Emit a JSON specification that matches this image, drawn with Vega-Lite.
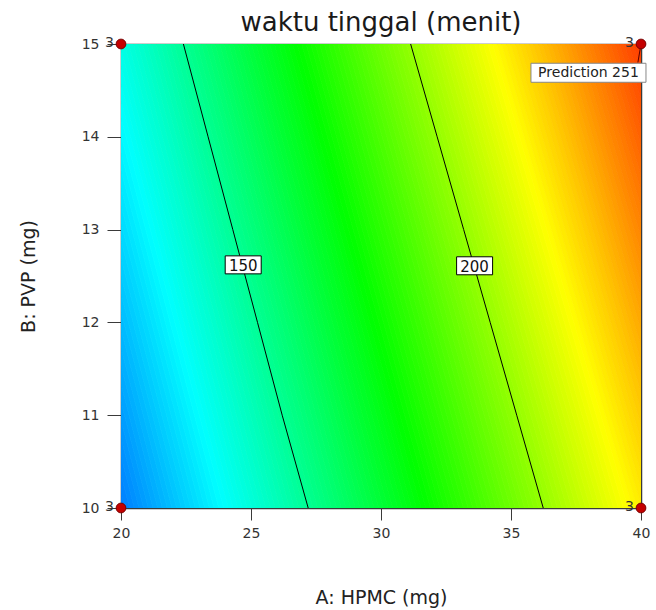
{
  "$schema": "https://vega.github.io/schema/vega-lite/v6.json",
  "autosize": {"type": "none"},
  "width": 520,
  "height": 464,
  "padding": {"left": 121, "top": 44, "right": 15, "bottom": 102},
  "background": "white",
  "config": {"font": "DejaVu Sans", "view": {"stroke": null}},
  "title": {"text": "waktu tinggal (menit)", "fontSize": 26, "fontWeight": "normal", "font": "DejaVu Sans", "color": "#1a1a1a", "anchor": "middle", "baseline": "alphabetic", "offset": -21},
  "datasets": {
    "bands": [
      {"z":108.5,"b":15,"a":15.06,"a2":15.23},{"z":108.5,"b":10,"a":19.61,"a2":19.79},
      {"z":109.5,"b":15,"a":15.23,"a2":15.41},{"z":109.5,"b":10,"a":19.79,"a2":19.97},
      {"z":110.5,"b":15,"a":15.41,"a2":15.58},{"z":110.5,"b":10,"a":19.97,"a2":20.15},
      {"z":111.5,"b":15,"a":15.58,"a2":15.76},{"z":111.5,"b":10,"a":20.15,"a2":20.33},
      {"z":112.5,"b":15,"a":15.76,"a2":15.93},{"z":112.5,"b":10,"a":20.33,"a2":20.51},
      {"z":113.5,"b":15,"a":15.93,"a2":16.11},{"z":113.5,"b":10,"a":20.51,"a2":20.69},
      {"z":114.5,"b":15,"a":16.11,"a2":16.28},{"z":114.5,"b":10,"a":20.69,"a2":20.87},
      {"z":115.5,"b":15,"a":16.28,"a2":16.46},{"z":115.5,"b":10,"a":20.87,"a2":21.05},
      {"z":116.5,"b":15,"a":16.46,"a2":16.63},{"z":116.5,"b":10,"a":21.05,"a2":21.23},
      {"z":117.5,"b":15,"a":16.63,"a2":16.81},{"z":117.5,"b":10,"a":21.23,"a2":21.41},
      {"z":118.5,"b":15,"a":16.81,"a2":16.98},{"z":118.5,"b":10,"a":21.41,"a2":21.59},
      {"z":119.5,"b":15,"a":16.98,"a2":17.16},{"z":119.5,"b":10,"a":21.59,"a2":21.78},
      {"z":120.5,"b":15,"a":17.16,"a2":17.33},{"z":120.5,"b":10,"a":21.78,"a2":21.96},
      {"z":121.5,"b":15,"a":17.33,"a2":17.50},{"z":121.5,"b":10,"a":21.96,"a2":22.14},
      {"z":122.5,"b":15,"a":17.50,"a2":17.68},{"z":122.5,"b":10,"a":22.14,"a2":22.32},
      {"z":123.5,"b":15,"a":17.68,"a2":17.85},{"z":123.5,"b":10,"a":22.32,"a2":22.50},
      {"z":124.5,"b":15,"a":17.85,"a2":18.03},{"z":124.5,"b":10,"a":22.50,"a2":22.68},
      {"z":125.5,"b":15,"a":18.03,"a2":18.20},{"z":125.5,"b":10,"a":22.68,"a2":22.86},
      {"z":126.5,"b":15,"a":18.20,"a2":18.38},{"z":126.5,"b":10,"a":22.86,"a2":23.04},
      {"z":127.5,"b":15,"a":18.38,"a2":18.55},{"z":127.5,"b":10,"a":23.04,"a2":23.22},
      {"z":128.5,"b":15,"a":18.55,"a2":18.73},{"z":128.5,"b":10,"a":23.22,"a2":23.40},
      {"z":129.5,"b":15,"a":18.73,"a2":18.90},{"z":129.5,"b":10,"a":23.40,"a2":23.58},
      {"z":130.5,"b":15,"a":18.90,"a2":19.08},{"z":130.5,"b":10,"a":23.58,"a2":23.76},
      {"z":131.5,"b":15,"a":19.08,"a2":19.25},{"z":131.5,"b":10,"a":23.76,"a2":23.95},
      {"z":132.5,"b":15,"a":19.25,"a2":19.43},{"z":132.5,"b":10,"a":23.95,"a2":24.13},
      {"z":133.5,"b":15,"a":19.43,"a2":19.60},{"z":133.5,"b":10,"a":24.13,"a2":24.31},
      {"z":134.5,"b":15,"a":19.60,"a2":19.78},{"z":134.5,"b":10,"a":24.31,"a2":24.49},
      {"z":135.5,"b":15,"a":19.78,"a2":19.95},{"z":135.5,"b":10,"a":24.49,"a2":24.67},
      {"z":136.5,"b":15,"a":19.95,"a2":20.13},{"z":136.5,"b":10,"a":24.67,"a2":24.85},
      {"z":137.5,"b":15,"a":20.13,"a2":20.30},{"z":137.5,"b":10,"a":24.85,"a2":25.03},
      {"z":138.5,"b":15,"a":20.30,"a2":20.48},{"z":138.5,"b":10,"a":25.03,"a2":25.21},
      {"z":139.5,"b":15,"a":20.48,"a2":20.65},{"z":139.5,"b":10,"a":25.21,"a2":25.39},
      {"z":140.5,"b":15,"a":20.65,"a2":20.83},{"z":140.5,"b":10,"a":25.39,"a2":25.57},
      {"z":141.5,"b":15,"a":20.83,"a2":21.00},{"z":141.5,"b":10,"a":25.57,"a2":25.75},
      {"z":142.5,"b":15,"a":21.00,"a2":21.18},{"z":142.5,"b":10,"a":25.75,"a2":25.93},
      {"z":143.5,"b":15,"a":21.18,"a2":21.35},{"z":143.5,"b":10,"a":25.93,"a2":26.12},
      {"z":144.5,"b":15,"a":21.35,"a2":21.53},{"z":144.5,"b":10,"a":26.12,"a2":26.30},
      {"z":145.5,"b":15,"a":21.53,"a2":21.70},{"z":145.5,"b":10,"a":26.30,"a2":26.48},
      {"z":146.5,"b":15,"a":21.70,"a2":21.88},{"z":146.5,"b":10,"a":26.48,"a2":26.66},
      {"z":147.5,"b":15,"a":21.88,"a2":22.05},{"z":147.5,"b":10,"a":26.66,"a2":26.84},
      {"z":148.5,"b":15,"a":22.05,"a2":22.23},{"z":148.5,"b":10,"a":26.84,"a2":27.02},
      {"z":149.5,"b":15,"a":22.23,"a2":22.40},{"z":149.5,"b":10,"a":27.02,"a2":27.20},
      {"z":150.5,"b":15,"a":22.40,"a2":22.57},{"z":150.5,"b":10,"a":27.20,"a2":27.38},
      {"z":151.5,"b":15,"a":22.57,"a2":22.75},{"z":151.5,"b":10,"a":27.38,"a2":27.56},
      {"z":152.5,"b":15,"a":22.75,"a2":22.92},{"z":152.5,"b":10,"a":27.56,"a2":27.74},
      {"z":153.5,"b":15,"a":22.92,"a2":23.10},{"z":153.5,"b":10,"a":27.74,"a2":27.92},
      {"z":154.5,"b":15,"a":23.10,"a2":23.27},{"z":154.5,"b":10,"a":27.92,"a2":28.10},
      {"z":155.5,"b":15,"a":23.27,"a2":23.45},{"z":155.5,"b":10,"a":28.10,"a2":28.29},
      {"z":156.5,"b":15,"a":23.45,"a2":23.62},{"z":156.5,"b":10,"a":28.29,"a2":28.47},
      {"z":157.5,"b":15,"a":23.62,"a2":23.80},{"z":157.5,"b":10,"a":28.47,"a2":28.65},
      {"z":158.5,"b":15,"a":23.80,"a2":23.97},{"z":158.5,"b":10,"a":28.65,"a2":28.83},
      {"z":159.5,"b":15,"a":23.97,"a2":24.15},{"z":159.5,"b":10,"a":28.83,"a2":29.01},
      {"z":160.5,"b":15,"a":24.15,"a2":24.32},{"z":160.5,"b":10,"a":29.01,"a2":29.19},
      {"z":161.5,"b":15,"a":24.32,"a2":24.50},{"z":161.5,"b":10,"a":29.19,"a2":29.37},
      {"z":162.5,"b":15,"a":24.50,"a2":24.67},{"z":162.5,"b":10,"a":29.37,"a2":29.55},
      {"z":163.5,"b":15,"a":24.67,"a2":24.85},{"z":163.5,"b":10,"a":29.55,"a2":29.73},
      {"z":164.5,"b":15,"a":24.85,"a2":25.02},{"z":164.5,"b":10,"a":29.73,"a2":29.91},
      {"z":165.5,"b":15,"a":25.02,"a2":25.20},{"z":165.5,"b":10,"a":29.91,"a2":30.09},
      {"z":166.5,"b":15,"a":25.20,"a2":25.37},{"z":166.5,"b":10,"a":30.09,"a2":30.27},
      {"z":167.5,"b":15,"a":25.37,"a2":25.55},{"z":167.5,"b":10,"a":30.27,"a2":30.45},
      {"z":168.5,"b":15,"a":25.55,"a2":25.72},{"z":168.5,"b":10,"a":30.45,"a2":30.64},
      {"z":169.5,"b":15,"a":25.72,"a2":25.90},{"z":169.5,"b":10,"a":30.64,"a2":30.82},
      {"z":170.5,"b":15,"a":25.90,"a2":26.07},{"z":170.5,"b":10,"a":30.82,"a2":31.00},
      {"z":171.5,"b":15,"a":26.07,"a2":26.25},{"z":171.5,"b":10,"a":31.00,"a2":31.18},
      {"z":172.5,"b":15,"a":26.25,"a2":26.42},{"z":172.5,"b":10,"a":31.18,"a2":31.36},
      {"z":173.5,"b":15,"a":26.42,"a2":26.60},{"z":173.5,"b":10,"a":31.36,"a2":31.54},
      {"z":174.5,"b":15,"a":26.60,"a2":26.77},{"z":174.5,"b":10,"a":31.54,"a2":31.72},
      {"z":175.5,"b":15,"a":26.77,"a2":26.95},{"z":175.5,"b":10,"a":31.72,"a2":31.90},
      {"z":176.5,"b":15,"a":26.95,"a2":27.12},{"z":176.5,"b":10,"a":31.90,"a2":32.08},
      {"z":177.5,"b":15,"a":27.12,"a2":27.30},{"z":177.5,"b":10,"a":32.08,"a2":32.26},
      {"z":178.5,"b":15,"a":27.30,"a2":27.47},{"z":178.5,"b":10,"a":32.26,"a2":32.44},
      {"z":179.5,"b":15,"a":27.47,"a2":27.64},{"z":179.5,"b":10,"a":32.44,"a2":32.62},
      {"z":180.5,"b":15,"a":27.64,"a2":27.82},{"z":180.5,"b":10,"a":32.62,"a2":32.81},
      {"z":181.5,"b":15,"a":27.82,"a2":27.99},{"z":181.5,"b":10,"a":32.81,"a2":32.99},
      {"z":182.5,"b":15,"a":27.99,"a2":28.17},{"z":182.5,"b":10,"a":32.99,"a2":33.17},
      {"z":183.5,"b":15,"a":28.17,"a2":28.34},{"z":183.5,"b":10,"a":33.17,"a2":33.35},
      {"z":184.5,"b":15,"a":28.34,"a2":28.52},{"z":184.5,"b":10,"a":33.35,"a2":33.53},
      {"z":185.5,"b":15,"a":28.52,"a2":28.69},{"z":185.5,"b":10,"a":33.53,"a2":33.71},
      {"z":186.5,"b":15,"a":28.69,"a2":28.87},{"z":186.5,"b":10,"a":33.71,"a2":33.89},
      {"z":187.5,"b":15,"a":28.87,"a2":29.04},{"z":187.5,"b":10,"a":33.89,"a2":34.07},
      {"z":188.5,"b":15,"a":29.04,"a2":29.22},{"z":188.5,"b":10,"a":34.07,"a2":34.25},
      {"z":189.5,"b":15,"a":29.22,"a2":29.39},{"z":189.5,"b":10,"a":34.25,"a2":34.43},
      {"z":190.5,"b":15,"a":29.39,"a2":29.57},{"z":190.5,"b":10,"a":34.43,"a2":34.61},
      {"z":191.5,"b":15,"a":29.57,"a2":29.74},{"z":191.5,"b":10,"a":34.61,"a2":34.79},
      {"z":192.5,"b":15,"a":29.74,"a2":29.92},{"z":192.5,"b":10,"a":34.79,"a2":34.98},
      {"z":193.5,"b":15,"a":29.92,"a2":30.09},{"z":193.5,"b":10,"a":34.98,"a2":35.16},
      {"z":194.5,"b":15,"a":30.09,"a2":30.27},{"z":194.5,"b":10,"a":35.16,"a2":35.34},
      {"z":195.5,"b":15,"a":30.27,"a2":30.44},{"z":195.5,"b":10,"a":35.34,"a2":35.52},
      {"z":196.5,"b":15,"a":30.44,"a2":30.62},{"z":196.5,"b":10,"a":35.52,"a2":35.70},
      {"z":197.5,"b":15,"a":30.62,"a2":30.79},{"z":197.5,"b":10,"a":35.70,"a2":35.88},
      {"z":198.5,"b":15,"a":30.79,"a2":30.97},{"z":198.5,"b":10,"a":35.88,"a2":36.06},
      {"z":199.5,"b":15,"a":30.97,"a2":31.14},{"z":199.5,"b":10,"a":36.06,"a2":36.24},
      {"z":200.5,"b":15,"a":31.14,"a2":31.32},{"z":200.5,"b":10,"a":36.24,"a2":36.42},
      {"z":201.5,"b":15,"a":31.32,"a2":31.49},{"z":201.5,"b":10,"a":36.42,"a2":36.60},
      {"z":202.5,"b":15,"a":31.49,"a2":31.67},{"z":202.5,"b":10,"a":36.60,"a2":36.78},
      {"z":203.5,"b":15,"a":31.67,"a2":31.84},{"z":203.5,"b":10,"a":36.78,"a2":36.96},
      {"z":204.5,"b":15,"a":31.84,"a2":32.02},{"z":204.5,"b":10,"a":36.96,"a2":37.15},
      {"z":205.5,"b":15,"a":32.02,"a2":32.19},{"z":205.5,"b":10,"a":37.15,"a2":37.33},
      {"z":206.5,"b":15,"a":32.19,"a2":32.37},{"z":206.5,"b":10,"a":37.33,"a2":37.51},
      {"z":207.5,"b":15,"a":32.37,"a2":32.54},{"z":207.5,"b":10,"a":37.51,"a2":37.69},
      {"z":208.5,"b":15,"a":32.54,"a2":32.72},{"z":208.5,"b":10,"a":37.69,"a2":37.87},
      {"z":209.5,"b":15,"a":32.72,"a2":32.89},{"z":209.5,"b":10,"a":37.87,"a2":38.05},
      {"z":210.5,"b":15,"a":32.89,"a2":33.06},{"z":210.5,"b":10,"a":38.05,"a2":38.23},
      {"z":211.5,"b":15,"a":33.06,"a2":33.24},{"z":211.5,"b":10,"a":38.23,"a2":38.41},
      {"z":212.5,"b":15,"a":33.24,"a2":33.41},{"z":212.5,"b":10,"a":38.41,"a2":38.59},
      {"z":213.5,"b":15,"a":33.41,"a2":33.59},{"z":213.5,"b":10,"a":38.59,"a2":38.77},
      {"z":214.5,"b":15,"a":33.59,"a2":33.76},{"z":214.5,"b":10,"a":38.77,"a2":38.95},
      {"z":215.5,"b":15,"a":33.76,"a2":33.94},{"z":215.5,"b":10,"a":38.95,"a2":39.13},
      {"z":216.5,"b":15,"a":33.94,"a2":34.11},{"z":216.5,"b":10,"a":39.13,"a2":39.32},
      {"z":217.5,"b":15,"a":34.11,"a2":34.29},{"z":217.5,"b":10,"a":39.32,"a2":39.50},
      {"z":218.5,"b":15,"a":34.29,"a2":34.46},{"z":218.5,"b":10,"a":39.50,"a2":39.68},
      {"z":219.5,"b":15,"a":34.46,"a2":34.64},{"z":219.5,"b":10,"a":39.68,"a2":39.86},
      {"z":220.5,"b":15,"a":34.64,"a2":34.81},{"z":220.5,"b":10,"a":39.86,"a2":40.04},
      {"z":221.5,"b":15,"a":34.81,"a2":34.99},{"z":221.5,"b":10,"a":40.04,"a2":40.22},
      {"z":222.5,"b":15,"a":34.99,"a2":35.16},{"z":222.5,"b":10,"a":40.22,"a2":40.40},
      {"z":223.5,"b":15,"a":35.16,"a2":35.34},{"z":223.5,"b":10,"a":40.40,"a2":40.58},
      {"z":224.5,"b":15,"a":35.34,"a2":35.51},{"z":224.5,"b":10,"a":40.58,"a2":40.76},
      {"z":225.5,"b":15,"a":35.51,"a2":35.69},{"z":225.5,"b":10,"a":40.76,"a2":40.94},
      {"z":226.5,"b":15,"a":35.69,"a2":35.86},{"z":226.5,"b":10,"a":40.94,"a2":41.12},
      {"z":227.5,"b":15,"a":35.86,"a2":36.04},{"z":227.5,"b":10,"a":41.12,"a2":41.31},
      {"z":228.5,"b":15,"a":36.04,"a2":36.21},{"z":228.5,"b":10,"a":41.31,"a2":41.49},
      {"z":229.5,"b":15,"a":36.21,"a2":36.39},{"z":229.5,"b":10,"a":41.49,"a2":41.67},
      {"z":230.5,"b":15,"a":36.39,"a2":36.56},{"z":230.5,"b":10,"a":41.67,"a2":41.85},
      {"z":231.5,"b":15,"a":36.56,"a2":36.74},{"z":231.5,"b":10,"a":41.85,"a2":42.03},
      {"z":232.5,"b":15,"a":36.74,"a2":36.91},{"z":232.5,"b":10,"a":42.03,"a2":42.21},
      {"z":233.5,"b":15,"a":36.91,"a2":37.09},{"z":233.5,"b":10,"a":42.21,"a2":42.39},
      {"z":234.5,"b":15,"a":37.09,"a2":37.26},{"z":234.5,"b":10,"a":42.39,"a2":42.57},
      {"z":235.5,"b":15,"a":37.26,"a2":37.44},{"z":235.5,"b":10,"a":42.57,"a2":42.75},
      {"z":236.5,"b":15,"a":37.44,"a2":37.61},{"z":236.5,"b":10,"a":42.75,"a2":42.93},
      {"z":237.5,"b":15,"a":37.61,"a2":37.79},{"z":237.5,"b":10,"a":42.93,"a2":43.11},
      {"z":238.5,"b":15,"a":37.79,"a2":37.96},{"z":238.5,"b":10,"a":43.11,"a2":43.29},
      {"z":239.5,"b":15,"a":37.96,"a2":38.13},{"z":239.5,"b":10,"a":43.29,"a2":43.47},
      {"z":240.5,"b":15,"a":38.13,"a2":38.31},{"z":240.5,"b":10,"a":43.47,"a2":43.66},
      {"z":241.5,"b":15,"a":38.31,"a2":38.48},{"z":241.5,"b":10,"a":43.66,"a2":43.84},
      {"z":242.5,"b":15,"a":38.48,"a2":38.66},{"z":242.5,"b":10,"a":43.84,"a2":44.02},
      {"z":243.5,"b":15,"a":38.66,"a2":38.83},{"z":243.5,"b":10,"a":44.02,"a2":44.20},
      {"z":244.5,"b":15,"a":38.83,"a2":39.01},{"z":244.5,"b":10,"a":44.20,"a2":44.38},
      {"z":245.5,"b":15,"a":39.01,"a2":39.18},{"z":245.5,"b":10,"a":44.38,"a2":44.56},
      {"z":246.5,"b":15,"a":39.18,"a2":39.36},{"z":246.5,"b":10,"a":44.56,"a2":44.74},
      {"z":247.5,"b":15,"a":39.36,"a2":39.53},{"z":247.5,"b":10,"a":44.74,"a2":44.92},
      {"z":248.5,"b":15,"a":39.53,"a2":39.71},{"z":248.5,"b":10,"a":44.92,"a2":45.10},
      {"z":249.5,"b":15,"a":39.71,"a2":39.88},{"z":249.5,"b":10,"a":45.10,"a2":45.28},
      {"z":250.5,"b":15,"a":39.88,"a2":40.06},{"z":250.5,"b":10,"a":45.28,"a2":45.46},
      {"z":251.5,"b":15,"a":40.06,"a2":40.23},{"z":251.5,"b":10,"a":45.46,"a2":45.64}
    ],
    "contours": [
      {"level":150,"ord":0,"a":22.4,"b":15},{"level":150,"ord":1,"a":23.35,"b":14},{"level":150,"ord":2,"a":24.3,"b":13},{"level":150,"ord":3,"a":25.25,"b":12},{"level":150,"ord":4,"a":26.2,"b":11},{"level":150,"ord":5,"a":27.2,"b":10},
      {"level":200,"ord":0,"a":31.14,"b":15},{"level":200,"ord":1,"a":32.16,"b":14},{"level":200,"ord":2,"a":33.18,"b":13},{"level":200,"ord":3,"a":34.2,"b":12},{"level":200,"ord":4,"a":35.22,"b":11},{"level":200,"ord":5,"a":36.24,"b":10}
    ],
    "labels": [
      {"label":"150","a":24.7,"b":12.62},
      {"label":"200","a":33.6,"b":12.61}
    ],
    "corners": [
      {"a":20,"b":10,"n":"3"},{"a":20,"b":15,"n":"3"},{"a":40,"b":10,"n":"3"},{"a":40,"b":15,"n":"3"}
    ],
    "pred": [
      {"label":"Prediction 251","a":37.98,"b":14.69}
    ],
    "leader": [
      {"ord":0,"a":40,"b":15},{"ord":1,"a":39.88,"b":14.8}
    ]
  },
  "layer": [
    {
      "data": {"name": "bands"},
      "mark": {"type": "area", "orient": "horizontal", "clip": true, "strokeWidth": 0.8},
      "encoding": {
        "y": {"field": "b", "type": "quantitative", "scale": {"domain": [10, 15]},
              "axis": {"values": [10, 11, 12, 13, 14, 15], "format": "d", "title": "B: PVP (mg)", "tickSize": 14, "labelPadding": 8, "titlePadding": 43, "labelFontSize": 14, "titleFontSize": 19, "titleFontWeight": "normal", "labelColor": "#333", "titleColor": "#222", "domainColor": "#3a3a3a", "domainWidth": 1.5, "tickColor": "#3a3a3a", "grid": false, "zindex": 0, "labelFlush": false}},
        "x": {"field": "a", "type": "quantitative", "scale": {"domain": [20, 40]},
              "axis": {"values": [20, 25, 30, 35, 40], "format": "d", "title": "A: HPMC (mg)", "tickSize": 12, "labelPadding": 6, "titlePadding": 48, "labelFontSize": 14, "titleFontSize": 19, "titleFontWeight": "normal", "labelColor": "#333", "titleColor": "#222", "domainColor": "#3a3a3a", "domainWidth": 1.5, "tickColor": "#3a3a3a", "grid": false, "zindex": 0, "labelFlush": false}},
        "x2": {"field": "a2"},
        "detail": {"field": "z"},
        "color": {"field": "z", "type": "quantitative", "legend": null,
                  "scale": {"domain": [89, 132, 175, 218, 261], "range": ["#0000ff", "#00ffff", "#00ff00", "#ffff00", "#ff0000"], "interpolate": "rgb"}},
        "stroke": {"field": "z", "type": "quantitative", "legend": null,
                  "scale": {"domain": [89, 132, 175, 218, 261], "range": ["#0000ff", "#00ffff", "#00ff00", "#ffff00", "#ff0000"], "interpolate": "rgb"}}
      }
    },
    {
      "data": {"name": "contours"},
      "mark": {"type": "line", "color": "#000000", "strokeWidth": 1},
      "encoding": {
        "x": {"field": "a", "type": "quantitative", "scale": {"domain": [20, 40]}, "axis": null},
        "y": {"field": "b", "type": "quantitative", "scale": {"domain": [10, 15]}, "axis": null},
        "detail": {"field": "level"},
        "order": {"field": "ord"}
      }
    },
    {
      "data": {"name": "leader"},
      "mark": {"type": "line", "color": "#5a0000", "strokeWidth": 1},
      "encoding": {
        "x": {"field": "a", "type": "quantitative", "scale": {"domain": [20, 40]}, "axis": null},
        "y": {"field": "b", "type": "quantitative", "scale": {"domain": [10, 15]}, "axis": null},
        "order": {"field": "ord"}
      }
    },
    {
      "data": {"name": "labels"},
      "mark": {"type": "point", "shape": "M-1,-0.5H1V0.5H-1Z", "size": 1296, "filled": true, "fill": "white", "stroke": "#000000", "strokeWidth": 1, "opacity": 1},
      "encoding": {
        "x": {"field": "a", "type": "quantitative", "scale": {"domain": [20, 40]}, "axis": null},
        "y": {"field": "b", "type": "quantitative", "scale": {"domain": [10, 15]}, "axis": null}
      }
    },
    {
      "data": {"name": "labels"},
      "mark": {"type": "text", "fontSize": 15, "font": "DejaVu Sans", "color": "#111", "align": "center", "baseline": "middle", "dy": 1},
      "encoding": {
        "x": {"field": "a", "type": "quantitative", "scale": {"domain": [20, 40]}, "axis": null},
        "y": {"field": "b", "type": "quantitative", "scale": {"domain": [10, 15]}, "axis": null},
        "text": {"field": "label"}
      }
    },
    {
      "data": {"name": "pred"},
      "mark": {"type": "point", "shape": "M-1,-0.1652H1V0.1652H-1Z", "size": 13225, "filled": true, "fill": "white", "stroke": "#888888", "strokeWidth": 1, "opacity": 1},
      "encoding": {
        "x": {"field": "a", "type": "quantitative", "scale": {"domain": [20, 40]}, "axis": null},
        "y": {"field": "b", "type": "quantitative", "scale": {"domain": [10, 15]}, "axis": null}
      }
    },
    {
      "data": {"name": "pred"},
      "mark": {"type": "text", "fontSize": 14, "font": "DejaVu Sans", "color": "#222", "align": "center", "baseline": "middle"},
      "encoding": {
        "x": {"field": "a", "type": "quantitative", "scale": {"domain": [20, 40]}, "axis": null},
        "y": {"field": "b", "type": "quantitative", "scale": {"domain": [10, 15]}, "axis": null},
        "text": {"field": "label"}
      }
    },
    {
      "data": {"name": "corners"},
      "mark": {"type": "point", "shape": "circle", "size": 95, "filled": true, "fill": "#c40000", "stroke": "#7a0000", "strokeWidth": 1, "opacity": 1},
      "encoding": {
        "x": {"field": "a", "type": "quantitative", "scale": {"domain": [20, 40]},
              "axis": {"orient": "top", "labels": false, "ticks": false, "title": null, "grid": false, "domainColor": "#3a3a3a", "domainWidth": 1.5, "zindex": 0}},
        "y": {"field": "b", "type": "quantitative", "scale": {"domain": [10, 15]},
              "axis": {"orient": "right", "labels": false, "ticks": false, "title": null, "grid": false, "domainColor": "#3a3a3a", "domainWidth": 1.5, "zindex": 0}}
      }
    },
    {
      "data": {"name": "corners"},
      "mark": {"type": "text", "fontSize": 14, "font": "DejaVu Sans", "color": "#333", "align": "right", "baseline": "middle", "dx": -7, "dy": -1},
      "encoding": {
        "x": {"field": "a", "type": "quantitative", "scale": {"domain": [20, 40]}, "axis": null},
        "y": {"field": "b", "type": "quantitative", "scale": {"domain": [10, 15]}, "axis": null},
        "text": {"field": "n"}
      }
    }
  ],
  "resolve": {"axis": {"x": "independent", "y": "independent"}}
}
